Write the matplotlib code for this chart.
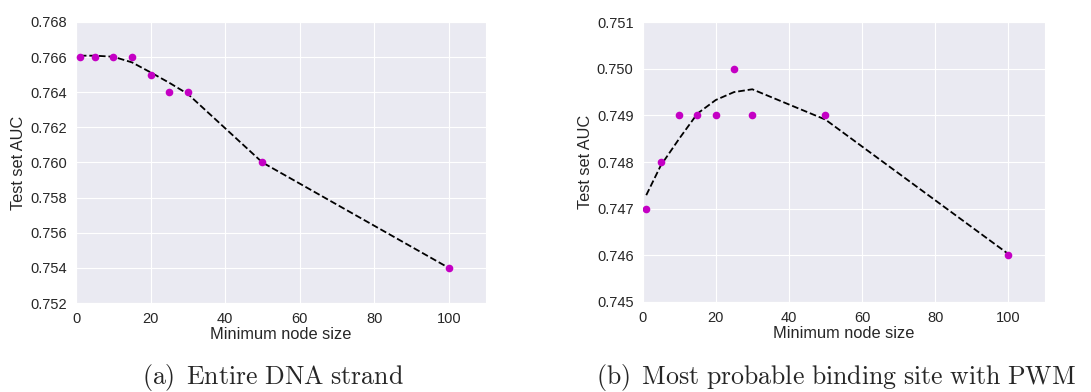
"""
Test-set AUC against minimum node size, two panels with seaborn darkgrid look.
"""

import matplotlib
matplotlib.use("Agg")
import matplotlib.pyplot as plt
import seaborn as sns

# ---------------------------------------------------------------------------
# Data
# ---------------------------------------------------------------------------
node_size = [1, 5, 10, 15, 20, 25, 30, 50, 100]

auc_dna = [0.766, 0.766, 0.766, 0.766, 0.765, 0.764, 0.764, 0.760, 0.754]
trend_dna = [0.76608, 0.76608, 0.76602, 0.76570, 0.76513, 0.76454, 0.76390, 0.76000, 0.75400]

auc_pwm = [0.747, 0.748, 0.749, 0.749, 0.749, 0.750, 0.749, 0.749, 0.746]
trend_pwm = [0.74729, 0.74793, 0.74850, 0.74904, 0.74933, 0.74950, 0.74956, 0.74891, 0.74603]

yticks_dna = [0.752, 0.754, 0.756, 0.758, 0.760, 0.762, 0.764, 0.766, 0.768]
yticks_pwm = [0.745, 0.746, 0.747, 0.748, 0.749, 0.750, 0.751]
xticks = [0, 20, 40, 60, 80, 100]

captions = [r"$\mathrm{(a)\ \,Entire\ DNA\ strand}$",
            r"$\mathrm{(b)\ \,Most\ probable\ binding\ site\ with\ PWM}$"]

# ---------------------------------------------------------------------------
# Style
# ---------------------------------------------------------------------------
sns.set_style("darkgrid")
plt.rcParams["font.family"] = ["Liberation Sans", "DejaVu Sans"]
plt.rcParams["mathtext.fontset"] = "cm"

_DPI = 100
fig = plt.figure(figsize=(10.91, 3.92), dpi=_DPI)

ax_a = fig.add_axes([0.0697, 0.227, 0.3758, 0.717])
ax_b = fig.add_axes([0.589, 0.2296, 0.3687, 0.714])

panels = [
    (ax_a, auc_dna, trend_dna, yticks_dna),
    (ax_b, auc_pwm, trend_pwm, yticks_pwm),
]

for ax, auc, trend, yticks in panels:
    ax.plot(node_size, trend, color="black", linestyle="--", linewidth=1.3, zorder=2)
    ax.plot(node_size, auc, "o", color="#c400c4", markersize=5.5, zorder=3,
            markeredgewidth=0)
    ax.set_xlim(0, 110)
    ax.set_xticks(xticks)
    ax.set_ylim(yticks[0], yticks[-1])
    ax.set_yticks(yticks)
    ax.set_yticklabels([f"{t:.3f}" for t in yticks])
    ax.set_xlabel("Minimum node size", fontsize=11.8, color="#262626", labelpad=1)
    ax.set_ylabel("Test set AUC", fontsize=11.8, color="#262626", labelpad=3)
    ax.tick_params(labelsize=10.5, colors="#262626", pad=3)

fig.text(0.250, 0.038, captions[0], fontsize=18.6, ha="center", va="center")
fig.text(0.766, 0.038, captions[1], fontsize=18.6, ha="center", va="center")

fig.savefig("out.png", dpi=_DPI)
plt.close(fig)
